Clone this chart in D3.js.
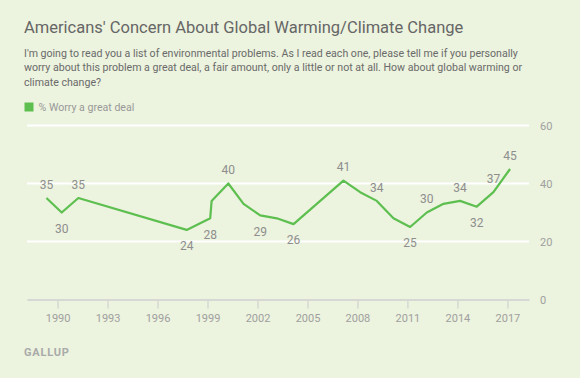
<!DOCTYPE html>
<html>
<head>
<meta charset="utf-8">
<script src="https://cdn.jsdelivr.net/npm/d3@7"></script>
<style>
  body { margin: 0; background: #ecf3de; }
  text { font-family: Roboto, "Open Sans", sans-serif; }
</style>
</head>
<body>
<div id="chart"></div>
<script>
// survey dates and % who worry a great deal
const surveyDates = ["1989-05", "1990-04", "1991-04", "1997-10", "1999-03", "1999-04", "2000-04",
                     "2001-03", "2002-03", "2003-03", "2004-03", "2006-03", "2007-03", "2008-03",
                     "2009-03", "2010-03", "2011-03", "2012-03", "2013-03", "2014-03", "2015-03",
                     "2016-03", "2017-03"];
const worryGreatDeal = [35, 30, 35, 24, 28, 34, 40, 33, 29, 28, 26, 36, 41, 37, 34, 28, 25, 30, 33, 34, 32, 37, 45];

// which points carry a value label, and which of those sit under the line
const labelled = ["1989-05", "1990-04", "1991-04", "1997-10", "1999-03", "2000-04", "2002-03", "2004-03",
                  "2007-03", "2009-03", "2011-03", "2012-03", "2014-03", "2015-03", "2016-03", "2017-03"];
const labelBelow = ["1990-04", "1997-10", "1999-03", "2002-03", "2004-03", "2011-03", "2015-03"];

const xTicks = [1990, 1993, 1996, 1999, 2002, 2005, 2008, 2011, 2014, 2017];
const yTicks = [0, 20, 40, 60];

const title = "Americans' Concern About Global Warming/Climate Change";
const subtitle = [
  "I'm going to read you a list of environmental problems. As I read each one, please tell me if you personally",
  "worry about this problem a great deal, a fair amount, only a little or not at all. How about global warming or",
  "climate change?"
];
const seriesName = "% Worry a great deal";

const drawChart = () => {
  const width = 580;
  const height = 378;
  const green = "#5dbf4f";

  const parseMonth = d3.timeParse("%Y-%m");
  const data = surveyDates.map((d, i) => ({ key: d, date: parseMonth(d), value: worryGreatDeal[i] }));

  const xScale = d3.scaleTime()
                   .domain([new Date(1988, 2, 1), new Date(2018, 3, 20)])
                   .range([27, 529]);

  const yScale = d3.scaleLinear()
                   .domain([0, 60])
                   .range([299.5, 125.5]);

  const svg = d3.select("#chart")
                .append("svg")
                .attr("width", width)
                .attr("height", height);

  svg.append("rect")
     .attr("width", width)
     .attr("height", height)
     .attr("fill", "#ecf3de");

  svg.append("text")
     .attr("x", 24)
     .attr("y", 32.5)
     .attr("font-size", 16.5)
     .attr("fill", "#666")
     .text(title);

  svg.selectAll(".sub")
     .data(subtitle)
     .enter()
     .append("text")
     .attr("class", "sub")
     .attr("x", 24)
     .attr("y", (d, i) => 57 + i * 14.3)
     .attr("font-size", 10.6)
     .attr("fill", "#6a6a6a")
     .text((d) => d);

  // legend
  svg.append("rect")
     .attr("x", 24.5)
     .attr("y", 102.5)
     .attr("width", 9)
     .attr("height", 9)
     .attr("fill", green);

  svg.append("text")
     .attr("x", 38.5)
     .attr("y", 111)
     .attr("font-size", 10.6)
     .attr("fill", "#999")
     .text(seriesName);

  // grid lines
  svg.selectAll(".grid")
     .data(yTicks.filter((d) => d > 0))
     .enter()
     .append("line")
     .attr("x1", 27)
     .attr("x2", 529)
     .attr("y1", (d) => yScale(d))
     .attr("y2", (d) => yScale(d))
     .attr("stroke", "#fff")
     .attr("stroke-width", 2);

  // x axis
  const xAxis = d3.axisBottom(xScale)
                  .tickValues(xTicks.map((y) => new Date(y, 0, 1)))
                  .tickFormat(d3.timeFormat("%Y"))
                  .tickSize(9)
                  .tickSizeOuter(0)
                  .tickPadding(6);

  const gx = svg.append("g")
                .attr("transform", `translate(0,${yScale(0)})`)
                .call(xAxis);
  gx.select(".domain").attr("stroke", "#d6d9d3").attr("stroke-width", 2);
  gx.selectAll(".tick line").attr("stroke", "#d6d9d3").attr("stroke-width", 1.5);
  gx.selectAll(".tick text")
    .attr("font-size", 11)
    .attr("font-family", "Roboto, sans-serif")
    .attr("fill", "#a0a0a0");

  // y axis on the right
  const yAxis = d3.axisRight(yScale)
                  .tickValues(yTicks)
                  .tickSize(0)
                  .tickPadding(0);

  const gy = svg.append("g")
                .attr("transform", "translate(540,0)")
                .call(yAxis);
  gy.select(".domain").remove();
  gy.selectAll(".tick text")
    .attr("font-size", 11)
    .attr("font-family", "Roboto, sans-serif")
    .attr("fill", "#a0a0a0");

  // line
  const line = d3.line()
                 .x((d) => xScale(d.date))
                 .y((d) => yScale(d.value));

  svg.append("path")
     .datum(data)
     .attr("d", line)
     .attr("fill", "none")
     .attr("stroke", green)
     .attr("stroke-width", 2.2)
     .attr("stroke-linejoin", "round");

  // value labels
  svg.selectAll(".lbl")
     .data(data.filter((d) => labelled.includes(d.key)))
     .enter()
     .append("text")
     .attr("class", "lbl")
     .attr("x", (d) => xScale(d.date))
     .attr("y", (d) => yScale(d.value) + (labelBelow.includes(d.key) ? 20.3 : -9.3))
     .attr("text-anchor", "middle")
     .attr("font-size", 12)
     .attr("fill", "#8e8e8e")
     .text((d) => d.value);

  svg.append("text")
     .attr("x", 24)
     .attr("y", 355.5)
     .attr("font-size", 11)
     .attr("font-weight", "bold")
     .attr("letter-spacing", 0.8)
     .attr("fill", "#aaa")
     .text("GALLUP");
}

drawChart();
</script>
</body>
</html>
